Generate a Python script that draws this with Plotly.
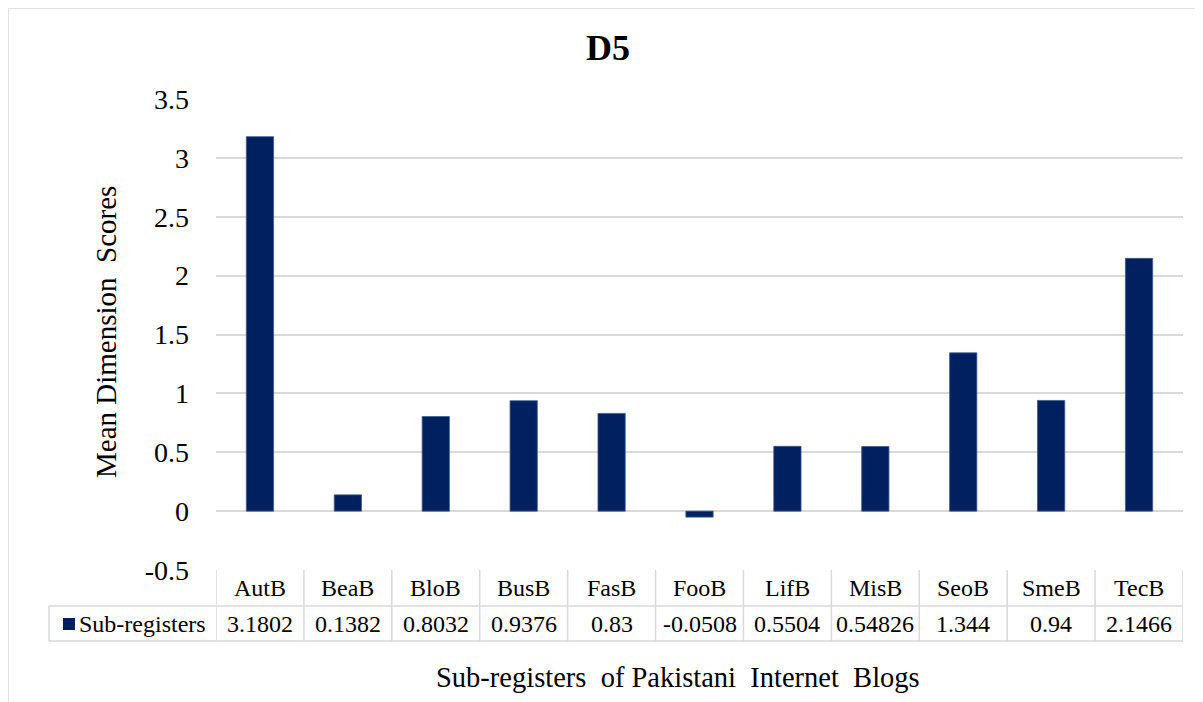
import plotly.graph_objects as go

# ---------------- data ----------------
categories = ["AutB", "BeaB", "BloB", "BusB", "FasB", "FooB", "LifB", "MisB", "SeoB", "SmeB", "TecB"]
values = [3.1802, 0.1382, 0.8032, 0.9376, 0.83, -0.0508, 0.5504, 0.54826, 1.344, 0.94, 2.1466]
series_name = "Sub-registers"
y_tick_vals = [-0.5, 0, 0.5, 1, 1.5, 2, 2.5, 3, 3.5]
y_tick_text = ["-0.5", "0", "0.5", "1", "1.5", "2", "2.5", "3", "3.5"]
chart_title = "D5"
x_title = "Sub-registers\u00a0\u00a0of Pakistani\u00a0\u00a0Internet\u00a0\u00a0Blogs"
y_title = "Mean Dimension\u00a0\u00a0Scores"

# ---------------- style ----------------
FONT = "Liberation Serif, Times New Roman, serif"
BAR = "#002060"
GRID = "#d9d9d9"
OFF = 8                      # page offset of the figure (body margin)
W, H = 1203 - OFF, 702 - OFF
PL, PR, PT, PB = 216, 1183, 99, 570   # plot area in page pixels
L, R, T, B = PL - OFF, 1203 - PR, PT - OFF, H - (PB - OFF)
PW, PH = W - L - R, H - T - B


def px_x(p):  # page pixel x -> paper x
    return (p - PL) / PW


def px_y(p):  # page pixel y -> paper y
    return (PB - p) / PH


fig = go.Figure()
fig.add_trace(go.Bar(
    x=categories, y=values, name=series_name,
    marker=dict(color=BAR, line=dict(color="#3d5a8c", width=0.8)),
    showlegend=False,
))

shapes = []
annotations = []
n = len(categories)
row1_top, row_mid, row_bot = px_y(PB), px_y(606), px_y(641)
grid_line = dict(color=GRID, width=1.5)

# table horizontal lines
shapes.append(dict(type="line", xref="x", yref="paper", x0=-0.5, x1=n - 0.5,
                   y0=row_mid, y1=row_mid, line=grid_line))
shapes.append(dict(type="line", xref="paper", yref="paper", x0=px_x(49), x1=0,
                   y0=row_mid, y1=row_mid, line=grid_line))
shapes.append(dict(type="line", xref="paper", yref="paper", x0=px_x(49), x1=0,
                   y0=row_bot, y1=row_bot, line=grid_line))
shapes.append(dict(type="line", xref="x", yref="paper", x0=-0.5, x1=n - 0.5,
                   y0=row_bot, y1=row_bot, line=grid_line))
# table vertical lines
for i in range(n + 1):
    shapes.append(dict(type="line", xref="x", yref="paper", x0=i - 0.5, x1=i - 0.5,
                       y0=row1_top, y1=row_bot, line=grid_line))
shapes.append(dict(type="line", xref="paper", yref="paper", x0=px_x(49), x1=px_x(49),
                   y0=row_mid, y1=row_bot, line=grid_line))
# legend key
shapes.append(dict(type="rect", xref="paper", yref="paper", x0=px_x(63), x1=px_x(75),
                   y0=px_y(630), y1=px_y(618), fillcolor=BAR, line=dict(width=0)))
# chart border (top and left edges)
shapes.append(dict(type="line", xref="paper", yref="paper", x0=px_x(8), x1=px_x(1210),
                   y0=px_y(8), y1=px_y(8), line=grid_line))
shapes.append(dict(type="line", xref="paper", yref="paper", x0=px_x(8), x1=px_x(8),
                   y0=px_y(8), y1=px_y(710), line=grid_line))

# table texts
tfont = dict(family=FONT, size=24, color="#000")
for c, v in zip(categories, values):
    annotations.append(dict(x=c, y=px_y(588), xref="x", yref="paper", text=c,
                            showarrow=False, font=tfont, xanchor="center", yanchor="middle"))
    annotations.append(dict(x=c, y=px_y(624), xref="x", yref="paper", text=str(v),
                            showarrow=False, font=tfont, xanchor="center", yanchor="middle"))
annotations.append(dict(x=px_x(77), y=px_y(624), xref="paper", yref="paper", text=series_name,
                        showarrow=False, font=tfont, xanchor="left", yanchor="middle"))
# axis titles
annotations.append(dict(x=px_x(678), y=px_y(677), xref="paper", yref="paper", text=x_title,
                        showarrow=False, font=dict(family=FONT, size=28.5, color="#000"),
                        xanchor="center", yanchor="middle"))
annotations.append(dict(x=px_x(106), y=px_y(332), xref="paper", yref="paper", text=y_title,
                        textangle=-90, showarrow=False,
                        font=dict(family=FONT, size=29, color="#000"),
                        xanchor="center", yanchor="middle"))

fig.update_layout(
    width=W, height=H,
    margin=dict(l=L, r=R, t=T, b=B, autoexpand=False),
    paper_bgcolor="white", plot_bgcolor="white",
    bargap=0.69,
    title=dict(text="<b>" + chart_title + "</b>", x=(608 - OFF) / W, xanchor="center",
               y=1 - (47 - OFF) / H, yanchor="middle", yref="container",
               font=dict(family=FONT, size=36, color="#000")),
    xaxis=dict(type="category", range=[-0.5, n - 0.5], showticklabels=False,
               showgrid=False, zeroline=False, showline=False, ticks=""),
    yaxis=dict(range=[-0.5, 3.5], tickvals=y_tick_vals, ticktext=y_tick_text,
               showgrid=True, gridcolor=GRID, gridwidth=1.5, zeroline=False,
               showline=False, ticks="", ticklabelstandoff=26,
               tickfont=dict(family=FONT, size=28, color="#000")),
    shapes=shapes, annotations=annotations,
)

fig.write_html("out.html")
